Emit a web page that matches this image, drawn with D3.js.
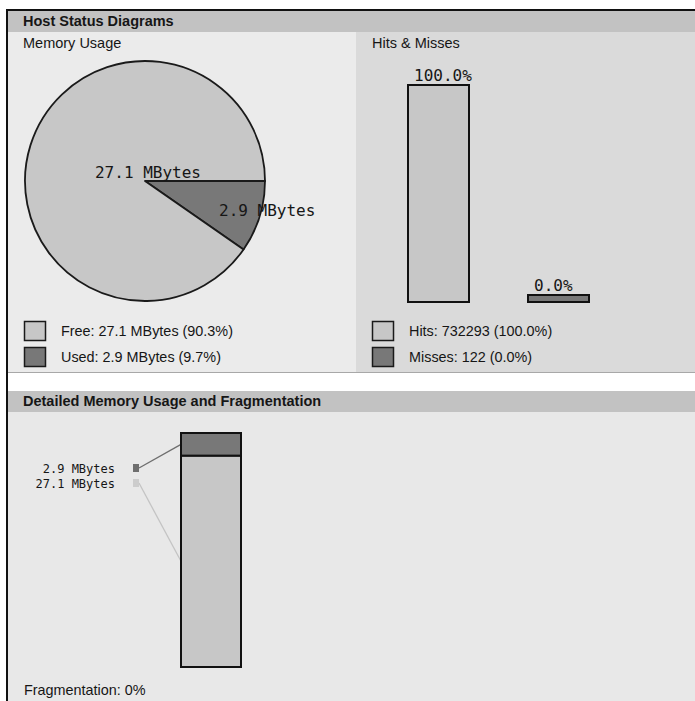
<!DOCTYPE html>
<html>
<head>
<meta charset="utf-8">
<script src="https://cdn.jsdelivr.net/npm/d3@7/dist/d3.min.js"></script>
<style>
  html, body { margin: 0; padding: 0; background: #ffffff; }
  svg { display: block; }
  .sans { font-family: "Liberation Sans", Arial, Helvetica, sans-serif; fill: #161616; }
  .mono { font-family: "DejaVu Sans Mono", "Liberation Mono", monospace; fill: #161616; }
</style>
</head>
<body>
<svg id="chart" width="695" height="701"></svg>
<script>
// Memory usage (MBytes)
const memoryCategories = ["Free", "Used"];
const memoryMBytes = [27.1, 2.9];

// Cache hits and misses (counts)
const hitMissCategories = ["Hits", "Misses"];
const hitMissCounts = [732293, 122];

// Fragmentation (%)
const fragmentationPercent = [0];

const LIGHT = "#c7c7c7";
const DARK = "#787878";
const EDGE = "#1a1a1a";
const colors = { Free: LIGHT, Used: DARK, Hits: LIGHT, Misses: DARK };

const svg = d3.select("#chart");

// ---------- frame and panels ----------
svg.append("rect").attr("x", 8).attr("y", 11).attr("width", 687).attr("height", 690).attr("fill", "#ffffff");
// top header
svg.append("rect").attr("x", 8).attr("y", 11).attr("width", 687).attr("height", 21).attr("fill", "#c2c2c2");
svg.append("text").attr("class", "sans").attr("x", 23).attr("y", 26)
  .attr("font-size", 14.5).attr("font-weight", "bold").text("Host Status Diagrams");
// left / right panels
svg.append("rect").attr("x", 8).attr("y", 32).attr("width", 348).attr("height", 340).attr("fill", "#ebebeb");
svg.append("rect").attr("x", 356).attr("y", 32).attr("width", 339).attr("height", 340).attr("fill", "#dadada");
svg.append("line").attr("x1", 8).attr("x2", 695).attr("y1", 372.5).attr("y2", 372.5)
  .attr("stroke", "#a8a8a8").attr("stroke-width", 1);
// bottom header + panel
svg.append("rect").attr("x", 8).attr("y", 391).attr("width", 687).attr("height", 21).attr("fill", "#c2c2c2");
svg.append("text").attr("class", "sans").attr("x", 23).attr("y", 406)
  .attr("font-size", 14.5).attr("font-weight", "bold").text("Detailed Memory Usage and Fragmentation");
svg.append("rect").attr("x", 8).attr("y", 412).attr("width", 687).attr("height", 289).attr("fill", "#e8e8e8");
// outer border (left + top)
svg.append("path").attr("d", "M7,701 V10 H695").attr("fill", "none").attr("stroke", "#111").attr("stroke-width", 2);

// ---------- Memory Usage pie ----------
svg.append("text").attr("class", "sans").attr("x", 23).attr("y", 48).attr("font-size", 14.5).text("Memory Usage");

const cx = 145, cy = 181, radius = 120;
const memTotal = d3.sum(memoryMBytes);
const memData = memoryCategories.map((c, i) => ({ cat: c, value: memoryMBytes[i], pct: memoryMBytes[i] / memTotal * 100 }));

// slices start at 3 o'clock and run clockwise: Used first, then Free
const pie = d3.pie().sort(null).value(d => d.value)
  .startAngle(Math.PI / 2).endAngle(Math.PI / 2 + 2 * Math.PI);
const arcs = pie([memData[1], memData[0]]);
const arc = d3.arc().innerRadius(0).outerRadius(radius);

const pieG = svg.append("g").attr("transform", `translate(${cx},${cy})`);
pieG.selectAll("path.slice").data(arcs).join("path")
  .attr("class", "slice")
  .attr("d", arc)
  .attr("fill", d => colors[d.data.cat])
  .attr("stroke", EDGE)
  .attr("stroke-width", 1.8)
  .attr("stroke-linejoin", "round");

// slice labels placed along each slice's mid angle
const labelRadius = 65;
pieG.selectAll("text.slice-label").data(arcs).join("text")
  .attr("class", "mono slice-label")
  .attr("font-size", 16)
  .attr("x", d => { const a = (d.startAngle + d.endAngle) / 2; return labelRadius * Math.sin(a) + 12; })
  .attr("y", d => { const a = (d.startAngle + d.endAngle) / 2; return -labelRadius * Math.cos(a) + 16; })
  .text(d => `${d.data.value.toFixed(1)} MBytes`);

// legend
const memLegend = svg.append("g");
memData.forEach((d, i) => {
  memLegend.append("rect").attr("x", 24.5).attr("y", 321.5 + i * 26).attr("width", 21).attr("height", 19)
    .attr("fill", colors[d.cat]).attr("stroke", EDGE).attr("stroke-width", 1.5);
  memLegend.append("text").attr("class", "sans").attr("x", 61).attr("y", 336 + i * 25.5).attr("font-size", 14.4)
    .text(`${d.cat}: ${d.value.toFixed(1)} MBytes (${d.pct.toFixed(1)}%)`);
});

// ---------- Hits & Misses bars ----------
svg.append("text").attr("class", "sans").attr("x", 372).attr("y", 48).attr("font-size", 14.5).text("Hits & Misses");

const hmTotal = d3.sum(hitMissCounts);
const hmData = hitMissCategories.map((c, i) => ({ cat: c, count: hitMissCounts[i], pct: hitMissCounts[i] / hmTotal * 100 }));

const xBand = d3.scaleBand().domain(hitMissCategories).range([378, 619]).paddingInner(0.4917).paddingOuter(0.25);
const barBottom = 302;
const yPct = d3.scaleLinear().domain([0, 100]).range([295, 85]);

const hmG = svg.append("g");
hmG.selectAll("rect.bar").data(hmData).join("rect")
  .attr("class", "bar")
  .attr("x", d => xBand(d.cat))
  .attr("y", d => yPct(+d.pct.toFixed(1)))
  .attr("width", xBand.bandwidth())
  .attr("height", d => barBottom - yPct(+d.pct.toFixed(1)))
  .attr("fill", d => colors[d.cat])
  .attr("stroke", "#111").attr("stroke-width", 2);
hmG.selectAll("text.bar-label").data(hmData).join("text")
  .attr("class", "mono bar-label")
  .attr("font-size", 16)
  .attr("x", d => xBand(d.cat) + 6)
  .attr("y", d => yPct(+d.pct.toFixed(1)) - 4)
  .text(d => `${d.pct.toFixed(1)}%`);

const hmLegend = svg.append("g");
hmData.forEach((d, i) => {
  hmLegend.append("rect").attr("x", 372.5).attr("y", 321.5 + i * 26).attr("width", 21).attr("height", 19)
    .attr("fill", colors[d.cat]).attr("stroke", EDGE).attr("stroke-width", 1.5);
  hmLegend.append("text").attr("class", "sans").attr("x", 409).attr("y", 336 + i * 25.5).attr("font-size", 14.4)
    .text(`${d.cat}: ${d.count} (${d.pct.toFixed(1)}%)`);
});

// ---------- Detailed memory stacked bar ----------
const yMem = d3.scaleLinear().domain([0, memTotal]).range([667, 433]);
const stackX = 181, stackW = 60;
let acc = 0;
const segments = memData.map(d => { const s = { ...d, y0: acc, y1: acc + d.value }; acc += d.value; return s; });

const detG = svg.append("g");
// connector lines from the small markers to the segment mid-points
const markerX = 133, markerY0 = 464;
const order = [1, 0]; // Used listed above Free
order.forEach((idx, row) => {
  const s = segments[idx];
  const my = markerY0 + row * 15;
  detG.append("line")
    .attr("x1", markerX + 6).attr("y1", my + 4)
    .attr("x2", stackX).attr("y2", yMem((s.y0 + s.y1) / 2))
    .attr("stroke", s.cat === "Used" ? "#6e6e6e" : "#c4c4c4").attr("stroke-width", 1.3);
  detG.append("rect").attr("x", markerX).attr("y", my).attr("width", 6).attr("height", 8)
    .attr("fill", s.cat === "Used" ? "#6e6e6e" : "#cccccc");
  detG.append("text").attr("class", "mono").attr("font-size", 12).attr("text-anchor", "end")
    .attr("x", 115).attr("y", my + 9)
    .text(`${s.value.toFixed(1)} MBytes`);
});

detG.selectAll("rect.seg").data(segments).join("rect")
  .attr("class", "seg")
  .attr("x", stackX)
  .attr("y", d => yMem(d.y1))
  .attr("width", stackW)
  .attr("height", d => yMem(d.y0) - yMem(d.y1))
  .attr("fill", d => colors[d.cat])
  .attr("stroke", "#111").attr("stroke-width", 2);

svg.append("text").attr("class", "sans").attr("x", 24).attr("y", 695).attr("font-size", 14.4)
  .text(`Fragmentation: ${fragmentationPercent[0]}%`);
</script>
</body>
</html>
